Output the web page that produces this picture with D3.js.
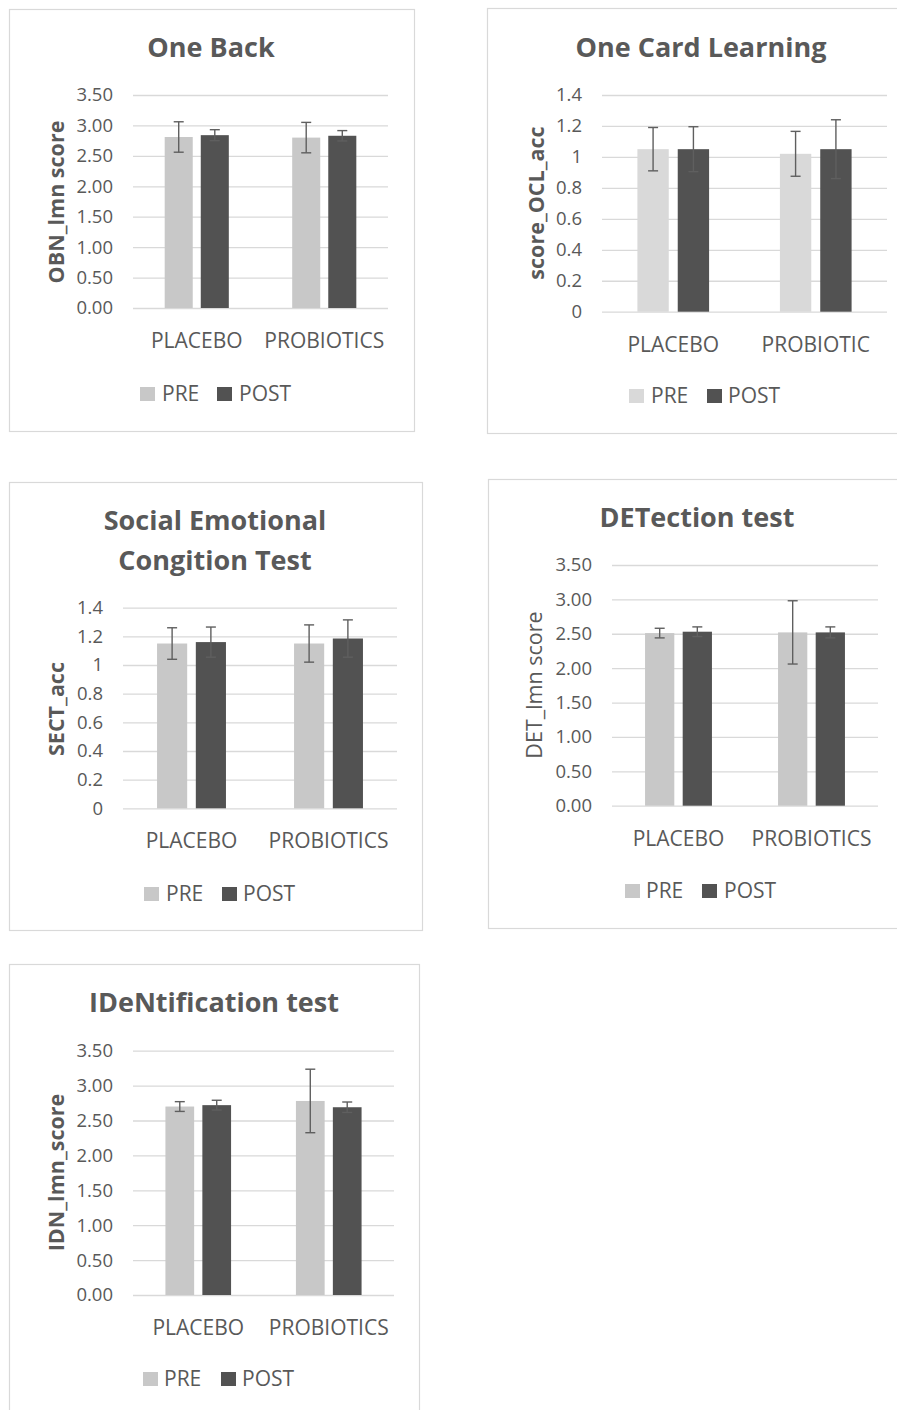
<!DOCTYPE html>
<html>
<head>
<meta charset="utf-8">
<script src="https://cdn.jsdelivr.net/npm/d3@7"></script>
<style>
  html, body { margin: 0; padding: 0; background: #fff; }
  svg { display: block; }
  text { font-family: "Open Sans", "Noto Sans", sans-serif; fill: #595959; }
</style>
</head>
<body>
<svg id="chart" width="897" height="1410"></svg>
<script>
// ---------------- DATA ----------------
const seriesNames = ["PRE", "POST"];
const categoriesA = ["PLACEBO", "PROBIOTICS"];
const categoriesB = ["PLACEBO", "PROBIOTIC"];

const ticks350 = [0, 0.5, 1, 1.5, 2, 2.5, 3, 3.5];
const ticks14 = [0, 0.2, 0.4, 0.6, 0.8, 1, 1.2, 1.4];

// One Back
const obnPre = [2.81, 2.80];
const obnPost = [2.84, 2.83];
const obnPreErr = [0.25, 0.25];
const obnPostErr = [0.09, 0.085];

// One Card Learning
const oclPre = [1.05, 1.02];
const oclPost = [1.05, 1.05];
const oclPreErr = [0.14, 0.145];
const oclPostErr = [0.145, 0.19];

// Social Emotional Congition Test
const sectPre = [1.15, 1.15];
const sectPost = [1.16, 1.185];
const sectPreErr = [0.11, 0.13];
const sectPostErr = [0.105, 0.13];

// DETection test
const detPre = [2.51, 2.52];
const detPost = [2.53, 2.52];
const detPreErr = [0.07, 0.46];
const detPostErr = [0.07, 0.08];

// IDeNtification test
const idnPre = [2.70, 2.78];
const idnPost = [2.72, 2.69];
const idnPreErr = [0.07, 0.455];
const idnPostErr = [0.07, 0.075];

// ---------------- LAYOUT ----------------
const panels = [
  { title: ["One Back"], ylabel: "OBN_lmn score", ybold: true, cats: categoriesA,
    pre: obnPre, post: obnPost, preErr: obnPreErr, postErr: obnPostErr,
    ticks: ticks350, fmt: d3.format(".2f"), preColor: "#c8c8c8",
    box: [9, 9, 414, 431], titleX: 211, titleY: [57],
    px: [133, 388], py: [95, 308], ylx: 55, yly: 202, catY: 348,
    legY: 387, legSw: [140, 217], legTx: [162, 239] },
  { title: ["One Card Learning"], ylabel: "score_OCL_acc", ybold: true, cats: categoriesB,
    pre: oclPre, post: oclPost, preErr: oclPreErr, postErr: oclPostErr,
    ticks: ticks14, fmt: d3.format("~g"), preColor: "#d9d9d9",
    box: [487, 8, 903, 433], titleX: 701, titleY: [57],
    px: [602, 887], py: [95, 311.7], ylx: 535, yly: 203, catY: 352,
    legY: 389, legSw: [629, 707], legTx: [651, 728] },
  { title: ["Social Emotional", "Congition Test"], ylabel: "SECT_acc", ybold: true, cats: categoriesA,
    pre: sectPre, post: sectPost, preErr: sectPreErr, postErr: sectPostErr,
    ticks: ticks14, fmt: d3.format("~g"), preColor: "#c8c8c8",
    box: [9, 482, 422, 930], titleX: 215, titleY: [530, 570],
    px: [123, 397], py: [607.7, 808.3], ylx: 55, yly: 709, catY: 848,
    legY: 887, legSw: [144, 222], legTx: [166, 243] },
  { title: ["DETection test"], ylabel: "DET_lmn score", ybold: false, cats: categoriesA,
    pre: detPre, post: detPost, preErr: detPreErr, postErr: detPostErr,
    ticks: ticks350, fmt: d3.format(".2f"), preColor: "#c8c8c8",
    box: [488, 479, 903, 928], titleX: 697, titleY: [527],
    px: [612, 878], py: [565, 805.7], ylx: 533, yly: 685, catY: 846,
    legY: 884, legSw: [625, 702], legTx: [646, 724] },
  { title: ["IDeNtification test"], ylabel: "IDN_lmn_score", ybold: true, cats: categoriesA,
    pre: idnPre, post: idnPost, preErr: idnPreErr, postErr: idnPostErr,
    ticks: ticks350, fmt: d3.format(".2f"), preColor: "#c8c8c8",
    box: [9, 964, 419, 1420], titleX: 214, titleY: [1012],
    px: [133, 394], py: [1050.7, 1295], ylx: 55, yly: 1172.5, catY: 1335,
    legY: 1372, legSw: [143, 221], legTx: [164, 242] }
];

const postColor = "#525252";
const gridColor = "#d9d9d9";
const errColor = "#5f5f5f";

const svg = d3.select("#chart");

panels.forEach(p => {
  const g = svg.append("g");
  // panel border
  g.append("rect")
    .attr("x", p.box[0] + 0.5).attr("y", p.box[1] + 0.5)
    .attr("width", p.box[2] - p.box[0]).attr("height", p.box[3] - p.box[1])
    .attr("fill", "#fff").attr("stroke", "#d9d9d9").attr("stroke-width", 1.2);

  // title
  p.title.forEach((t, i) => {
    g.append("text").attr("x", p.titleX).attr("y", p.titleY[i])
      .attr("text-anchor", "middle").attr("font-size", 27).attr("font-weight", "bold")
      .text(t);
  });

  const y = d3.scaleLinear().domain([0, d3.max(p.ticks)]).range([p.py[1], p.py[0]]);
  const x0 = d3.scaleBand().domain(p.cats).range(p.px).padding(0);
  const bw = x0.bandwidth();
  const barW = bw * 0.22, gap = bw * 0.063;

  // y axis with gridlines
  const axis = d3.axisLeft(y).tickValues(p.ticks).tickFormat(p.fmt)
    .tickSize(-(p.px[1] - p.px[0])).tickPadding(20);
  const ag = g.append("g").attr("transform", `translate(${p.px[0]},0)`).call(axis);
  ag.select(".domain").remove();
  ag.selectAll(".tick line").attr("stroke", gridColor).attr("stroke-width", 1.3);
  ag.selectAll(".tick text").attr("font-size", 18.5).attr("fill", "#595959")
    .style("font-family", '"Open Sans", "Noto Sans", sans-serif');

  // bars
  const rows = p.cats.map((c, i) => ({ cat: c, vals: [
    { s: "PRE", v: p.pre[i], e: p.preErr[i], color: p.preColor },
    { s: "POST", v: p.post[i], e: p.postErr[i], color: postColor }
  ]}));

  rows.forEach(r => {
    const cx = x0(r.cat) + bw / 2;
    r.vals.forEach((d, j) => {
      const bx = j === 0 ? cx - gap / 2 - barW : cx + gap / 2;
      g.append("rect").attr("x", bx).attr("y", y(d.v))
        .attr("width", barW).attr("height", y(0) - y(d.v)).attr("fill", d.color);
      const ex = bx + barW / 2;
      const eg = g.append("g").attr("stroke", errColor).attr("stroke-width", 1.4);
      eg.append("line").attr("x1", ex).attr("x2", ex).attr("y1", y(d.v + d.e)).attr("y2", y(d.v - d.e));
      eg.append("line").attr("x1", ex - 5).attr("x2", ex + 5).attr("y1", y(d.v + d.e)).attr("y2", y(d.v + d.e));
      eg.append("line").attr("x1", ex - 5).attr("x2", ex + 5).attr("y1", y(d.v - d.e)).attr("y2", y(d.v - d.e));
    });
    // category label
    g.append("text").attr("x", cx).attr("y", p.catY).attr("text-anchor", "middle")
      .attr("font-size", 21).text(r.cat);
  });

  // y label
  g.append("text")
    .attr("transform", `translate(${p.ylx},${p.yly}) rotate(-90)`)
    .attr("text-anchor", "middle").attr("dominant-baseline", "central")
    .attr("font-size", 21.5).attr("font-weight", p.ybold ? "bold" : "normal")
    .text(p.ylabel);

  // legend
  const legColors = [p.preColor, postColor];
  seriesNames.forEach((s, i) => {
    g.append("rect").attr("x", p.legSw[i]).attr("y", p.legY).attr("width", 15).attr("height", 14)
      .attr("fill", legColors[i]);
    g.append("text").attr("x", p.legTx[i]).attr("y", p.legY + 14).attr("font-size", 21).text(s);
  });
});
</script>
</body>
</html>
